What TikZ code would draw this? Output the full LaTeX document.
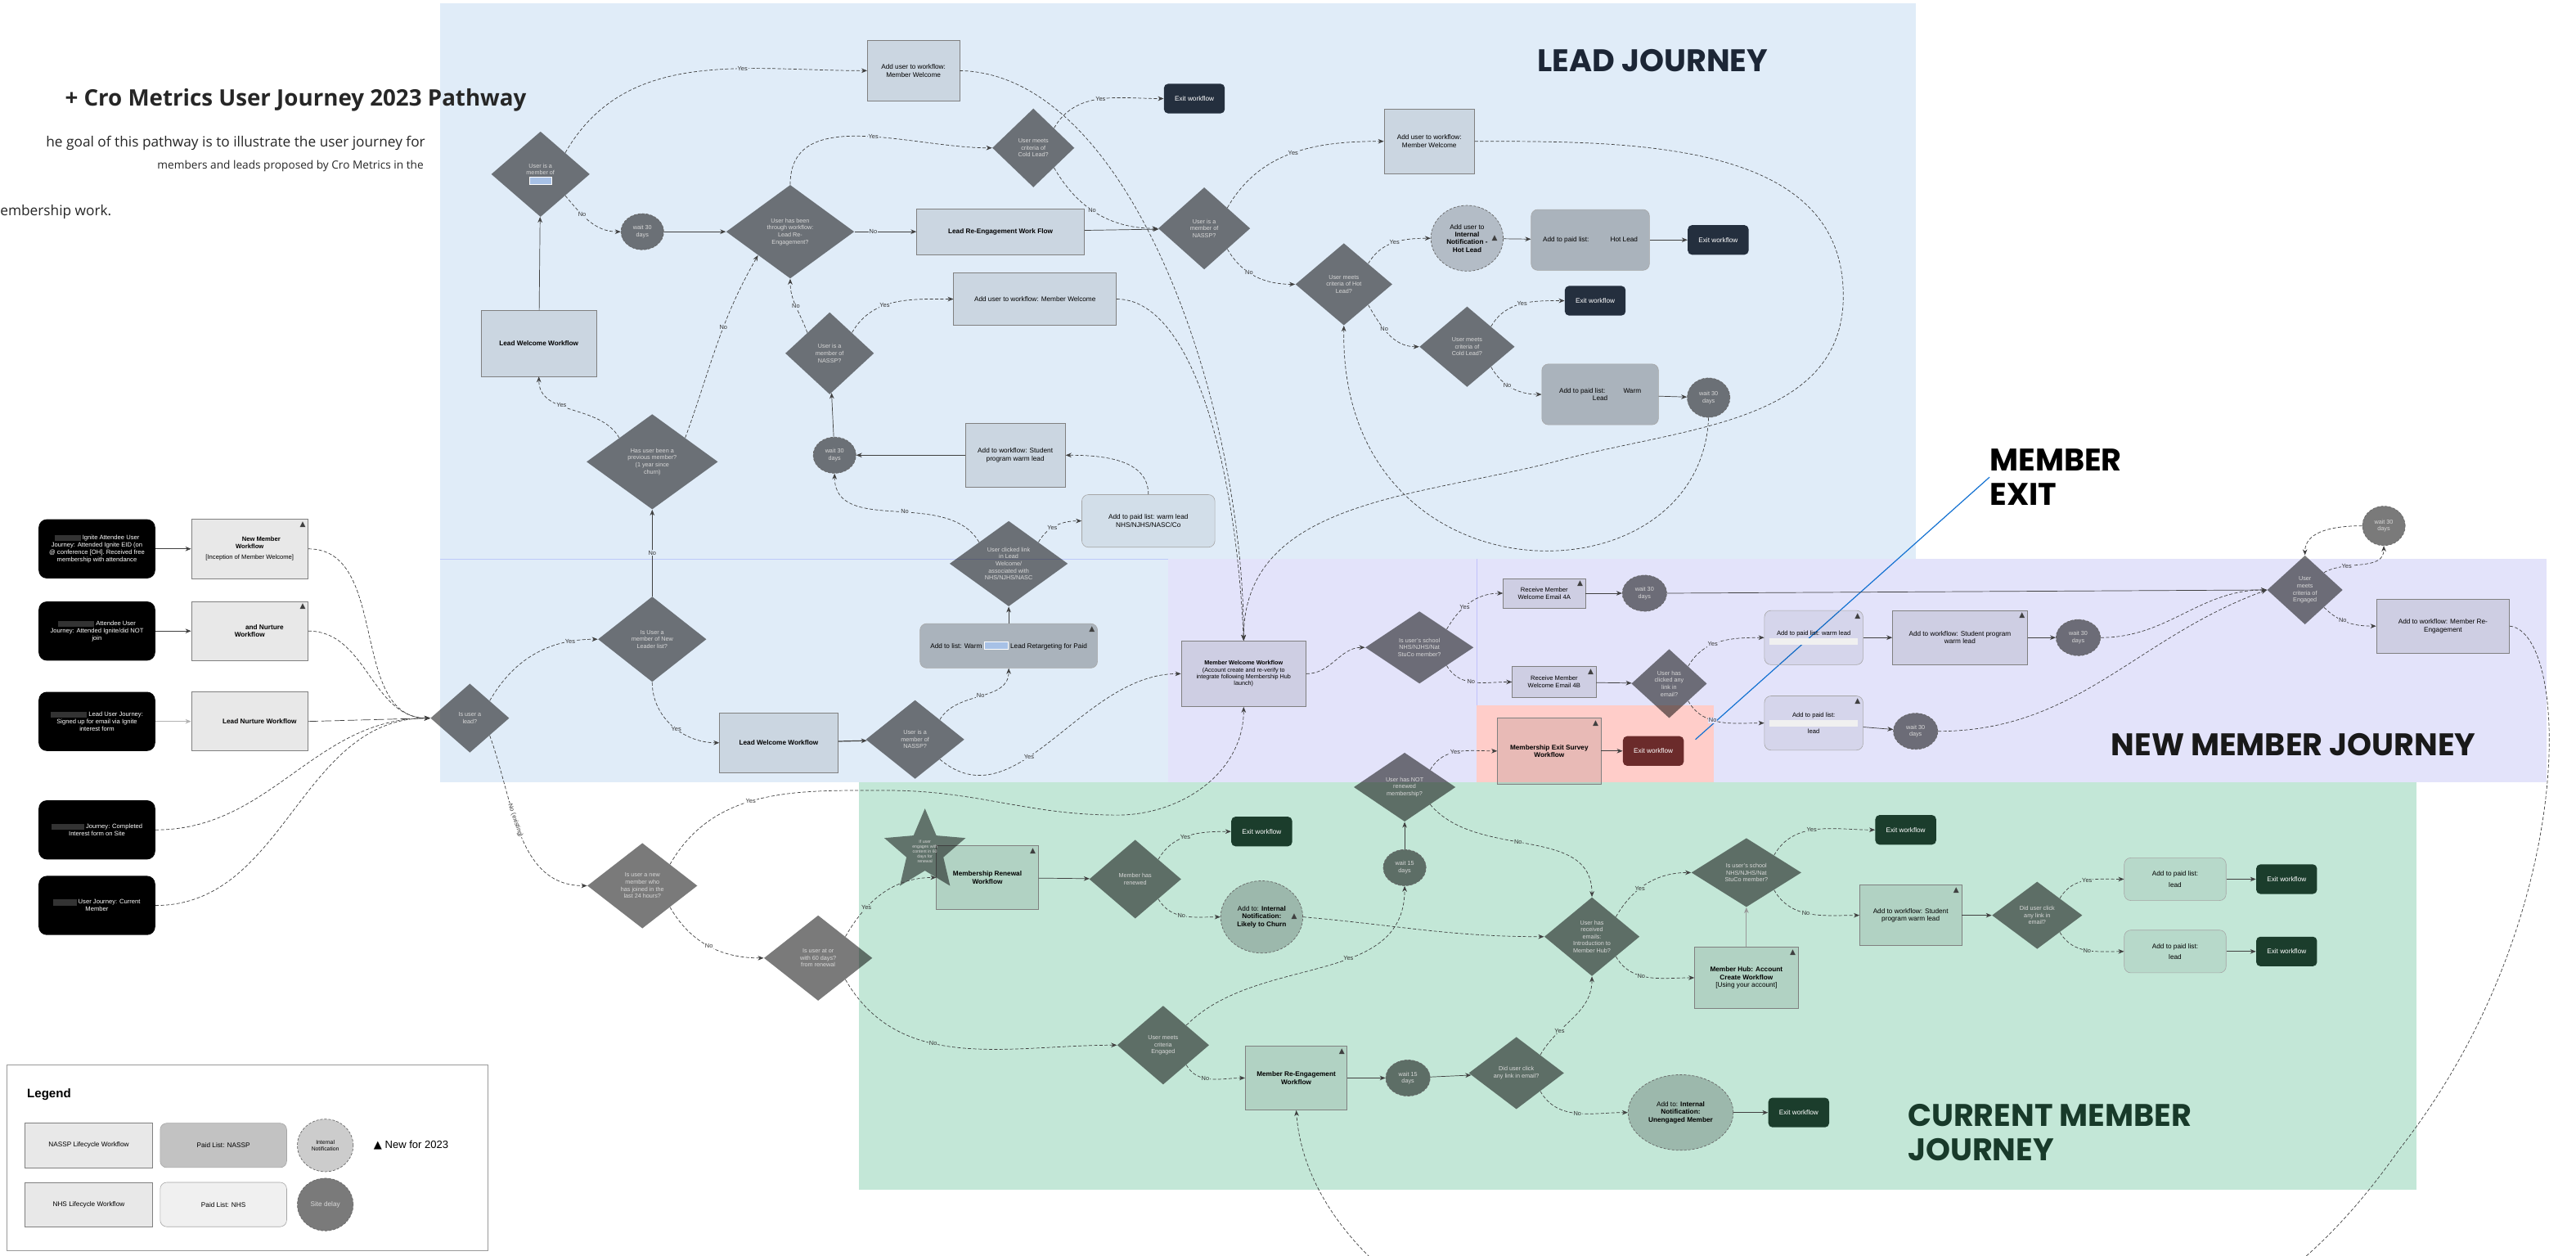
\documentclass[tikz,border=0pt]{standalone}
\usepackage{fontspec}
\setmainfont{Liberation Sans}
\newfontfamily\opensans{Open Sans}
\newfontfamily\poppins{Poppins}
\newfontfamily\symfont{DejaVu Sans}
\usepackage{tikz}
\usetikzlibrary{positioning,arrows.meta,shapes.geometric}

\definecolor{leadbg}{HTML}{E0ECF8}
\definecolor{newbg}{HTML}{E3E3FA}
\definecolor{exitbg}{HTML}{FFCDC9}
\definecolor{curbg}{HTML}{C3E7D7}
\definecolor{exitlead}{HTML}{242F3E}
\definecolor{exitcur}{HTML}{1B3D2C}
\definecolor{exitred}{HTML}{6B2B2B}
\definecolor{barblue}{HTML}{A7C1E6}
\definecolor{leadnavy}{HTML}{1C2636}
\definecolor{curgreen}{HTML}{183A2A}
\definecolor{exitblue}{HTML}{1472D2}

\newcommand{\nf}{\fontsize{4.1}{4.7}\selectfont}
\newcommand{\smf}{\fontsize{3.8}{4.4}\selectfont}
\newcommand{\df}{\fontsize{3.6}{4.3}\selectfont}
\newcommand{\lf}{\fontsize{3.7}{3.7}\selectfont}
\newcommand{\newtri}{{\symfont ▲}}
\newcommand{\redact}[2]{\textcolor{#2}{\rule[-.8pt]{#1}{3.6pt}}}
\newcommand{\bluebar}[1]{{\setlength{\fboxsep}{0pt}\setlength{\fboxrule}{.5pt}\fcolorbox{white}{barblue}{\rule{0pt}{4pt}\hspace{#1}}}}
\newcommand{\whitebar}{\textcolor{white!94!black}{\rule{54pt}{4pt}}}

\begin{document}
\begin{tikzpicture}[x=1pt, y=-1pt,
    >={Stealth[length=3.5pt,width=2.8pt]},
    every node/.style={font=\nf, align=center},
    wh/.style 2 args={minimum width=#1pt, minimum height=#2pt},
    src/.style={rectangle, rounded corners=5pt, fill=black, text=white, minimum width=71pt, minimum height=36pt, inner sep=1pt, font=\smf},
    box/.style={rectangle, draw=black!50, line width=.35pt, fill=black, fill opacity=.09, text opacity=1, inner sep=1pt},
    paid/.style={rectangle, rounded corners=4pt, draw=black!35, line width=.3pt, fill=black, fill opacity=.24, text opacity=1, inner sep=1pt},
    paidl/.style={paid, fill opacity=.06},
    dia/.style={diamond, fill=black, fill opacity=.52, text opacity=1, text=white!85!black, inner sep=0pt, font=\df},
    delay/.style={ellipse, draw=black!60, dash pattern=on 1.5pt off 1pt, line width=.35pt, fill=black, fill opacity=.52, text opacity=1, text=white!85!black, inner sep=0pt, font=\df},
    notif/.style={ellipse, draw=black!60, dash pattern=on 1.5pt off 1pt, line width=.35pt, fill=black, fill opacity=.2, text opacity=1, inner sep=0pt},
    exitn/.style={rectangle, rounded corners=2.5pt, fill=#1, text=white, minimum width=37pt, minimum height=18pt, inner sep=1pt},
    trimark/.style={anchor=north east, inner sep=1.5pt, text=black!75, font=\fontsize{4.5}{4.5}\selectfont},
    tri/.style={label={[trimark]north east:\newtri}},
    tric/.style={label={[trimark, anchor=east, xshift=-2pt]east:\newtri}},
    lbl/.style={fill=#1, inner sep=.4pt, font=\lf, text=black!80},
    lbl/.default=white,
    link/.style={draw=black!75, line width=.35pt, ->},
    dlink/.style={link, dash pattern=on 2pt off 1.2pt},
    title/.style={font=\poppins\bfseries\fontsize{19}{21}\selectfont, inner sep=0pt}]

\useasboundingbox (0,0) rectangle (1568,764);
\fill[white] (0,0) rectangle (1568,764);

\fill[leadbg] (268,2) rectangle (1166,476);
\draw[leadbg!85!blue, line width=.3pt] (268,340) -- (711,340);
\fill[newbg] (711,340) rectangle (1550,476);
\draw[newbg!85!blue, line width=.3pt] (899,340) -- (899,429);
\fill[exitbg] (899,429) rectangle (1043,476);
\fill[curbg] (523,476) rectangle (1471,724);

\node[font=\opensans\bfseries\fontsize{13.8}{16}\selectfont, text=black!85] (ttl) at (180,61) {+ Cro Metrics User Journey 2023 Pathway};
\node[font=\opensans\fontsize{8.6}{9}\selectfont, text=black!85, anchor=east, inner sep=0pt] (tla) at (259,87) {he goal of this pathway is to illustrate the user journey for};
\node[font=\opensans\fontsize{6.8}{7.5}\selectfont, text=black!85, anchor=east, inner sep=0pt] (tlb) at (258,101) {members and leads proposed by Cro Metrics in the};
\node[font=\opensans\fontsize{8.6}{9}\selectfont, text=black!85, anchor=west, inner sep=0pt] (tlc) at (0,129) {embership work.};

\node[title, text=leadnavy] (ljt) at (1006,37) {LEAD JOURNEY};
\node[title, text=black, align=left, anchor=north west] (mex) at (1211,273) {MEMBER\\EXIT};
\node[title, text=black!90] (nmj) at (1396,453) {NEW MEMBER JOURNEY};
\node[title, text=curgreen, align=left, anchor=west] (cmj) at (1161,689) {CURRENT MEMBER\\JOURNEY};
\coordinate (mexend) at (1032,450);
\draw[exitblue, line width=.6pt] (mex.west) -- (mexend);

\node[src] (ign) at (59,334) {\redact{16pt}{white!20!black} Ignite Attendee User\\Journey: Attended Ignite EID (on\\@ conference [OH]. Received free\\membership with attendance};
\node[src] (att) at (59,384) {\redact{22pt}{white!20!black} Attendee User\\Journey: Attended Ignite/did NOT\\join};
\node[src] (lds) at (59,439) {\redact{22pt}{white!20!black} Lead User Journey:\\Signed up for email via Ignite\\interest form};
\node[src] (frm) at (59,505) {\redact{20pt}{white!20!black} Journey: Completed\\Interest form on Site};
\node[src] (cur) at (59,551) {\redact{14pt}{white!20!black} User Journey: Current\\Member};

\node[box, tri, wh={71}{36}, font=\smf] (nmw) at (152,334) {\hspace*{14pt}\textbf{New Member}\\\textbf{Workflow}\\[2pt]{[Inception of Member Welcome]}};
\node[box, tri, wh={71}{36}] (anw) at (152,384) {\hspace*{18pt}\textbf{and Nurture}\\\textbf{Workflow}};
\node[box, wh={71}{36}] (lnw) at (152,439) {\hspace*{12pt}\textbf{Lead Nurture Workflow}};

\node[dia, wh={48}{42}] (islead) at (286,437) {Is user a\\lead?};

\node[box, wh={56}{37}] (mwa) at (556,43) {Add user to workflow:\\Member Welcome};
\node[exitn=exitlead] (exa) at (727,60) {Exit workflow};
\node[dia, wh={60}{52}] (memb) at (329,106) {User is a\\member of\\\bluebar{13pt}};
\node[delay, wh={26}{22}] (wta) at (391,141) {wait 30\\days};
\node[dia, wh={78}{57}] (reeq) at (481,141) {User has been\\through workflow:\\Lead Re-\\Engagement?};
\node[dia, wh={50}{48}] (colda) at (629,90) {User meets\\criteria of\\Cold Lead?};
\node[box, wh={102}{28}] (ref) at (609,141) {\textbf{Lead Re-Engagement Work Flow}};
\node[box, wh={99}{32}] (mwb) at (630,182) {Add user to workflow: Member Welcome};
\node[dia, wh={54}{50}] (nasa) at (505,215) {User is a\\member of\\NASSP?};
\node[box, wh={70}{40}] (lwa) at (328,209) {\textbf{Lead Welcome Workflow}};
\node[box, wh={55}{39}] (mwc) at (870,86) {Add user to workflow:\\Member Welcome};
\node[dia, wh={56}{50}] (nasb) at (733,139) {User is a\\member of\\NASSP?};
\node[dia, wh={59}{50}] (hot) at (818,173) {User meets\\criteria of Hot\\Lead?};
\node[notif, tric, wh={44}{40}] (nhot) at (893,145) {Add user to\\\textbf{Internal}\\\textbf{Notification -}\\\textbf{Hot Lead}};
\node[paid, wh={72}{37}] (phot) at (968,146) {Add to paid list: \hspace{10pt} Hot Lead};
\node[exitn=exitlead, right=23pt of phot] (exb) {Exit workflow};
\node[dia, wh={58}{49}] (coldb) at (893,211) {User meets\\criteria of\\Cold Lead?};
\node[exitn=exitlead] (exc) at (971,183) {Exit workflow};
\node[paid, wh={71}{37}] (pwarm) at (974,240) {Add to paid list: \hspace{8pt} Warm\\Lead};
\node[delay, wh={26}{24}] (wtb) at (1040,242) {wait 30\\days};

\node[dia, wh={80}{58}] (prev) at (397,281) {Has user been a\\previous member?\\(1 year since\\churn)};
\node[delay, wh={26}{22}] (wtc) at (508,277) {wait 30\\days};
\node[box, wh={61}{39}] (stua) at (618,277) {Add to workflow: Student\\program warm lead};
\node[paidl, wh={81}{32}] (pnhs) at (699,317) {Add to paid list: warm lead\\NHS/NJHS/NASC/Co};
\node[dia, wh={72}{52}] (clka) at (614,343) {User clicked link\\in Lead\\Welcome/\\associated with\\NHS/NJHS/NASC};
\node[paid, tri, wh={108}{27}] (wlist) at (614,393) {Add to list: Warm \bluebar{14pt} Lead Retargeting for Paid};
\node[dia, wh={66}{52}] (newl) at (397,389) {Is User a\\member of New\\Leader list?};
\node[box, wh={72}{36}] (lwb) at (474,452) {\textbf{Lead Welcome Workflow}};
\node[dia, wh={60}{48}] (nasc) at (557,450) {User is a\\member of\\NASSP?};

\node[box, wh={76}{40}, font=\fontsize{3.6}{4.2}\selectfont] (mww) at (757,410) {\textbf{Member Welcome Workflow}\\(Account create and re-verify to\\integrate following Membership Hub\\launch)};
\node[dia, wh={66}{44}] (scha) at (864,394) {Is user's school\\NHS/NJHS/Nat\\StuCo member?};
\node[box, tri, wh={50}{18}, font=\smf] (rcva) at (940,361) {Receive Member\\Welcome Email 4A};
\node[delay, wh={27}{22}] (wtd) at (1001,361) {wait 30\\days};
\node[box, tri, wh={51}{19}, font=\smf] (rcvb) at (946,415) {Receive Member\\Welcome Email 4B};
\node[dia, wh={46}{42}] (clkb) at (1016,416) {User has\\clicked any\\link in\\email?};
\node[paidl, tri, wh={60}{33}, font=\smf] (pnma) at (1104,388) {Add to paid list: warm lead\\\whitebar};
\node[paidl, tri, wh={60}{33}, font=\smf] (pnmb) at (1104,440) {Add to paid list:\\\whitebar\\lead};
\node[box, tri, wh={82}{33}] (stub) at (1193,388) {Add to workflow: Student program\\warm lead};
\node[delay, wh={27}{22}] (wte) at (1265,388) {wait 30\\days};
\node[delay, wh={27}{22}] (wtf) at (1166,445) {wait 30\\days};
\node[dia, wh={46}{42}] (enga) at (1403,359) {User\\meets\\criteria of\\Engaged};
\node[delay, wh={26}{24}] (wtg) at (1451,320) {wait 30\\days};
\node[box, wh={81}{33}] (rem) at (1487,381) {Add to workflow: Member Re-\\Engagement};

\node[box, tri, wh={63}{40}] (exs) at (943,457) {\textbf{Membership Exit Survey}\\\textbf{Workflow}};
\node[exitn=exitred, right=13pt of exs] (exd) {Exit workflow};
\node[dia, wh={62}{42}] (notr) at (855,479) {User has NOT\\renewed\\membership?};

\node[box, tri, wh={62}{39}] (renw) at (601,534) {\textbf{Membership Renewal}\\\textbf{Workflow}};
\node[star, star points=5, star point ratio=2.2, minimum size=52pt, fill=black, fill opacity=.5, text opacity=1, text=white!85!black, inner sep=0pt, font=\fontsize{2.6}{3}\selectfont] (strr) at (563,518) {If user\\engages with\\content in 60\\days for\\renewal};
\node[dia, wh={56}{48}] (rnwd) at (691,535) {Member has\\renewed};
\node[exitn=exitcur] (exe) at (768,506) {Exit workflow};
\node[notif, tric, wh={50}{44}] (nchn) at (768,558) {Add to: \textbf{Internal}\\\textbf{Notification:}\\\textbf{Likely to Churn}};
\node[delay, wh={26}{22}] (wtfa) at (855,528) {wait 15\\days};
\node[dia, wh={58}{48}] (eml) at (969,570) {User has\\received\\emails:\\Introduction to\\Member Hub?};
\node[dia, wh={67}{42}] (schb) at (1063,531) {Is user's school\\NHS/NJHS/Nat\\StuCo member?};
\node[box, tri, wh={63}{37}] (hub) at (1063,595) {\textbf{Member Hub: Account}\\\textbf{Create Workflow}\\{[Using your account]}};
\node[exitn=exitcur] (exf) at (1160,505) {Exit workflow};
\node[box, tri, wh={62}{37}] (stuc) at (1163,557) {Add to workflow: Student\\program warm lead};
\node[dia, wh={55}{41}] (clkc) at (1240,557) {Did user click\\any link in\\email?};
\node[paidl, wh={62}{26}] (pcma) at (1324,535) {Add to paid list:\\[2pt]lead};
\node[paidl, wh={62}{26}] (pcmb) at (1324,579) {Add to paid list:\\[2pt]lead};
\node[exitn=exitcur, right=18pt of pcma] (exg) {Exit workflow};
\node[exitn=exitcur, right=18pt of pcmb] (exh) {Exit workflow};
\node[dia, wh={66}{52}] (sixt) at (498,583) {Is user at or\\with 60 days?\\from renewal};
\node[dia, wh={67}{52}] (njn) at (391,539) {Is user a new\\member who\\has joined in the\\last 24 hours?};
\node[dia, wh={56}{48}] (engb) at (708,636) {User meets\\criteria\\Engaged};
\node[box, tri, wh={62}{39}] (rec) at (789,656) {\textbf{Member Re-Engagement}\\\textbf{Workflow}};
\node[delay, wh={27}{22}] (wtfb) at (857,656) {wait 15\\days};
\node[dia, wh={58}{44}] (clkd) at (923,653) {Did user click\\any link in email?};
\node[notif, wh={64}{46}] (nun) at (1023,677) {Add to: \textbf{Internal}\\\textbf{Notification:}\\\textbf{Unengaged Member}};
\node[exitn=exitcur, right=21pt of nun] (exi) {Exit workflow};

\draw[black!40, line width=.4pt] (4,648) rectangle (297,761);
\node[font=\bfseries\fontsize{7.5}{8}\selectfont, anchor=west] (lgt) at (13,666) {Legend};
\node[box, wh={78}{27}] (lga) at (54,697) {NASSP Lifecycle Workflow};
\node[paid, wh={77}{27}] (lgb) at (136,697) {Paid List: NASSP};
\node[notif, wh={34}{32}, font=\fontsize{3.4}{4}\selectfont] (lgc) at (198,697) {Internal\\Notification};
\node[anchor=west, font=\fontsize{6.5}{7}\selectfont] (lgd) at (224,697) {\newtri\ New for 2023};
\node[box, wh={78}{27}] (lge) at (54,733) {NHS Lifecycle Workflow};
\node[paidl, wh={77}{27}] (lgf) at (136,733) {Paid List: NHS};
\node[delay, wh={34}{32}, font=\nf] (lgg) at (198,733) {Site delay};

\draw[link] (ign) -- (nmw);
\draw[link] (att) -- (anw);
\draw[link, black!30] (lds) -- (lnw);
\draw[dlink] (nmw.east) to[out=0,in=180] (islead.west);
\draw[dlink] (anw.east) to[out=0,in=180] (islead.west);
\draw[link, dash pattern=on 6pt off 2pt] (lnw.east) -- (islead.west);
\draw[dlink] (frm.east) to[out=0,in=180] (islead.west);
\draw[dlink] (cur.east) to[out=0,in=180] (islead.west);

\draw[dlink] (islead.north east) to[out=60,in=180] node[lbl=leadbg,pos=.8]{Yes} (newl.west);
\draw[link] (newl.north) -- node[lbl=leadbg]{No} (prev.south);
\draw[dlink] (newl.south) to[out=-90,in=180] node[lbl=leadbg,pos=.55]{Yes} (lwb.west);
\draw[link, line width=.6pt] (lwb) -- (nasc);
\draw[dlink] (nasc.north east) to[out=60,in=-90] node[lbl=leadbg,pos=.5]{No} (wlist.south);
\draw[dlink] (nasc.south east) to[out=-40,in=180] node[lbl=leadbg,pos=.4]{Yes} (mww.west);
\draw[link] (wlist) -- (clka);
\draw[dlink] (clka.north east) to[out=60,in=180] node[lbl=leadbg,pos=.4]{Yes} (pnhs.west);
\draw[dlink] (clka.north west) to[out=120,in=-90] node[lbl=leadbg,pos=.45]{No} (wtc.south);
\draw[dlink] (pnhs.north) to[out=90,in=0] (stua.east);
\draw[link] (stua) -- (wtc);
\draw[link] (wtc) -- (nasa);
\draw[dlink] (nasa.north west) to[out=110,in=-90] node[lbl=leadbg]{No} (reeq.south);
\draw[dlink] (nasa.north east) to[out=60,in=180] node[lbl=leadbg,pos=.4]{Yes} (mwb.west);
\draw[dlink] (prev.north west) to[out=120,in=-90] node[lbl=leadbg,pos=.6]{Yes} (lwa.south);
\draw[dlink] (prev.north east) to[out=70,in=-120] node[lbl=leadbg,pos=.6]{No} (reeq.south west);
\draw[link] (lwa) -- (memb);
\draw[dlink] (memb.north east) to[out=60,in=180] node[lbl=leadbg,pos=.65]{Yes} (mwa.west);
\draw[dlink] (memb.south east) to[out=-50,in=180] node[lbl=leadbg,pos=.35]{No} (wta.west);
\draw[link] (wta) -- (reeq);
\draw[dlink] (reeq.north) to[out=90,in=180] node[lbl=leadbg,pos=.55]{Yes} (colda.west);
\draw[link] (reeq) -- node[lbl=leadbg,pos=.3]{No} (ref);
\draw[dlink] (colda.north east) to[out=60,in=180] node[lbl=leadbg,pos=.5]{Yes} (exa.west);
\draw[dlink] (colda.south east) to[out=-60,in=180] node[lbl=leadbg,pos=.45]{No} (nasb.west);
\draw[link] (ref) -- (nasb);
\draw[dlink] (nasb.north east) to[out=60,in=180] node[lbl=leadbg,pos=.5]{Yes} (mwc.west);
\draw[dlink] (nasb.south east) to[out=-60,in=180] node[lbl=leadbg,pos=.4]{No} (hot.west);
\draw[dlink] (hot.north east) to[out=60,in=180] node[lbl=leadbg,pos=.5]{Yes} (nhot.west);
\draw[link] (nhot) -- (phot);
\draw[link] (phot) -- (exb);
\draw[dlink] (hot.south east) to[out=-60,in=180] node[lbl=leadbg,pos=.4]{No} (coldb.west);
\draw[dlink] (coldb.north east) to[out=60,in=180] node[lbl=leadbg,pos=.5]{Yes} (exc.west);
\draw[dlink] (coldb.south east) to[out=-60,in=180] node[lbl=leadbg,pos=.4]{No} (pwarm.west);
\draw[link] (pwarm) -- (wtb);
\draw[dlink] (wtb.south) .. controls (1035,370) and (815,370) .. (hot.south);

\draw[dlink] (mwa.east) .. controls (690,45) and (757,250) .. (mww.north);
\draw[dlink] (mwb.east) .. controls (725,182) and (752,280) .. (mww.north);
\draw[dlink] (mwc.east) to[out=0,in=90] (1122,180) to[out=-90,in=15] (950,280) to[out=195,in=90] (mww.north);
\draw[dlink] (njn.north east) to[out=60,in=180] node[lbl,pos=.45]{Yes} (540,481) to[out=0,in=180] (680,496) to[out=0,in=-90] (mww.south);
\draw[dlink] (islead.south east) to[out=-70,in=180] node[lbl,sloped,pos=.42]{No (existing)} (njn.west);

\draw[dlink] (mww.east) to[out=0,in=180] (scha.west);
\draw[dlink] (scha.north east) to[out=60,in=180] node[lbl=newbg,pos=.4]{Yes} (rcva.west);
\draw[dlink] (scha.south east) to[out=-60,in=180] node[lbl=newbg,pos=.45]{No} (rcvb.west);
\draw[link] (rcva) -- (wtd);
\draw[link] (wtd.east) -- (enga.west);
\draw[link] (rcvb) -- (clkb);
\draw[dlink] (clkb.north east) to[out=60,in=180] node[lbl=newbg,pos=.4]{Yes} (pnma.west);
\draw[dlink] (clkb.south east) to[out=-60,in=180] node[lbl=newbg,pos=.4]{No} (pnmb.west);
\draw[link] (pnma) -- (stub);
\draw[link] (stub) -- (wte);
\draw[dlink] (wte.east) to[out=0,in=180] (enga.west);
\draw[link] (pnmb) -- (wtf);
\draw[dlink] (wtf.east) to[out=0,in=200] (enga.west);
\draw[dlink] (enga.north east) to[out=30,in=-90] node[lbl=newbg,pos=.3]{Yes} (wtg.south);
\draw[dlink] (wtg.west) to[out=180,in=90] (enga.north);
\draw[dlink] (enga.south east) to[out=-45,in=180] node[lbl=newbg,pos=.4]{No} (rem.west);
\draw[dlink] (rem.east) .. controls (1565,385) and (1570,560) .. (1460,700) .. controls (1390,800) and (1300,850) .. (1100,850) .. controls (900,850) and (795,760) .. (rec.south);

\draw[dlink] (notr.north east) to[out=60,in=180] node[lbl=newbg,pos=.45]{Yes} (exs.west);
\draw[link] (exs) -- (exd);
\draw[link] (wtfa) -- (notr);
\draw[dlink] (notr.south east) to[out=-50,in=90] node[lbl=curbg,pos=.45]{No} (eml.north);

\draw[dlink] (njn.south east) to[out=-60,in=180] node[lbl,pos=.5]{No} (sixt.west);
\draw[dlink] (sixt.north east) to[out=60,in=180] node[lbl=curbg,pos=.3]{Yes} (renw.west);
\draw[dlink] (sixt.south east) to[out=-60,in=180] node[lbl=curbg,pos=.4]{No} (engb.west);
\draw[link] (renw) -- (rnwd);
\draw[dlink] (rnwd.north east) to[out=60,in=180] node[lbl=curbg,pos=.45]{Yes} (exe.west);
\draw[dlink] (rnwd.south east) to[out=-60,in=180] node[lbl=curbg,pos=.45]{No} (nchn.west);
\draw[dlink] (nchn.east) to[out=-5,in=180] (eml.west);
\draw[dlink] (engb.north east) to[out=45,in=-90] node[lbl=curbg,pos=.6]{Yes} (wtfa.south);
\draw[dlink] (engb.south east) to[out=-60,in=180] node[lbl=curbg,pos=.4]{No} (rec.west);
\draw[link] (rec) -- (wtfb);
\draw[link] (wtfb) -- (clkd);
\draw[dlink] (clkd.north east) to[out=60,in=-90] node[lbl=curbg,pos=.3]{Yes} (eml.south);
\draw[dlink] (clkd.south east) to[out=-60,in=180] node[lbl=curbg,pos=.5]{No} (nun.west);
\draw[link] (nun) -- (exi);
\draw[dlink] (eml.north east) to[out=60,in=180] node[lbl=curbg,pos=.4]{Yes} (schb.west);
\draw[dlink] (eml.south east) to[out=-60,in=180] node[lbl=curbg,pos=.4]{No} (hub.west);
\draw[link, black!40] (hub) -- (schb);
\draw[dlink] (schb.north east) to[out=60,in=180] node[lbl=curbg,pos=.45]{Yes} (exf.west);
\draw[dlink] (schb.south east) to[out=-60,in=180] node[lbl=curbg,pos=.45]{No} (stuc.west);
\draw[link] (stuc) -- (clkc);
\draw[dlink] (clkc.north east) to[out=60,in=180] node[lbl=curbg,pos=.5]{Yes} (pcma.west);
\draw[dlink] (clkc.south east) to[out=-60,in=180] node[lbl=curbg,pos=.5]{No} (pcmb.west);
\draw[link] (pcma) -- (exg);
\draw[link] (pcmb) -- (exh);
\end{tikzpicture}
\end{document}
